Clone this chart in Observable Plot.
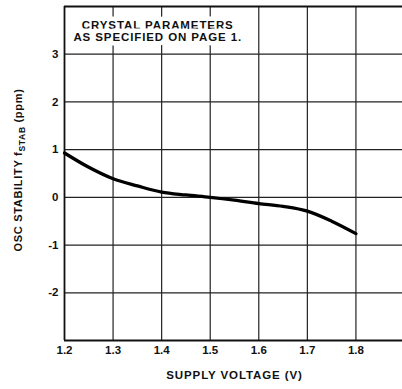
<!DOCTYPE html>
<html>
<head>
<meta charset="utf-8">
<script src="https://cdn.jsdelivr.net/npm/d3@7"></script>
<script src="https://cdn.jsdelivr.net/npm/@observablehq/plot@0.6"></script>
<style>
  html, body { margin: 0; padding: 0; background: #fff; }
  svg { display: block; }
</style>
</head>
<body>
<div id="chart"></div>
<script>
const voltage   = [1.2, 1.25, 1.3, 1.35, 1.4, 1.45, 1.5, 1.55, 1.6, 1.65, 1.7, 1.75, 1.8];
const stability = [0.93, 0.63, 0.39, 0.24, 0.11, 0.05, 0.0, -0.06, -0.13, -0.19, -0.29, -0.5, -0.76];
const xTicks = [1.2, 1.3, 1.4, 1.5, 1.6, 1.7, 1.8];
const yTicks = [-2, -1, 0, 1, 2, 3];
const xGrid = [1.3, 1.4, 1.5, 1.6, 1.7, 1.8];
const note = ["CRYSTAL PARAMETERS\nAS SPECIFIED ON PAGE 1."];
const noteX = [1.392];
const noteY = [3.48];
const xLabel = "SUPPLY VOLTAGE (V)";

const data = voltage.map((v, i) => ({v, s: stability[i]}));
const font = "'Liberation Sans', Arial, Helvetica, sans-serif";

const plot = Plot.plot({
  width: 402,
  height: 389,
  marginTop: 6,
  marginBottom: 49,
  marginLeft: 64,
  marginRight: -2,
  style: {fontFamily: font, fontSize: "11px", fontWeight: "bold", color: "#111", background: "#fff"},
  x: {domain: [1.2, 1.9]},
  y: {domain: [-3, 4]},
  marks: [
    Plot.ruleX(xGrid, {stroke: "#222", strokeWidth: 1.2}),
    Plot.ruleY(yTicks, {stroke: "#222", strokeWidth: 1.2}),
    Plot.ruleX([1.2], {stroke: "#111", strokeWidth: 1.8}),
    Plot.ruleY([-3, 4], {stroke: "#111", strokeWidth: 1.8}),
    Plot.text(note, {
      x: noteX, y: noteY, text: d => d,
      fontSize: 11.5, fontWeight: "bold", lineHeight: 0.98,
      fill: "#111", stroke: "white", strokeWidth: 9, textAnchor: "middle",
      fontFamily: font, className: "spaced"
    }),
    Plot.line(data, {x: "v", y: "s", curve: "monotone-x", stroke: "#000", strokeWidth: 3.3}),
    Plot.axisX(xTicks, {tickSize: 0, tickPadding: 5, tickFormat: d => d.toFixed(1), fontSize: 11.5, fontWeight: "bold", label: null}),
    Plot.axisY(yTicks, {tickSize: 0, tickPadding: 6, tickFormat: d => String(d), fontSize: 11.5, fontWeight: "bold", label: null}),
    Plot.text([xLabel], {frameAnchor: "bottom", dy: 38, text: d => d, fontSize: 11.5, fontWeight: "bold", fill: "#111", fontFamily: font, className: "spaced"})
  ]
});
document.getElementById("chart").append(plot);

const svg = d3.select(plot);
svg.selectAll(".spaced text").style("letter-spacing", "0.9px");

// Y-axis title with subscript
const t = svg.append("text")
  .attr("transform", "translate(22,170) rotate(-90)")
  .attr("text-anchor", "middle")
  .attr("font-family", font)
  .attr("font-weight", "bold")
  .attr("font-size", 11)
  .attr("letter-spacing", "0.7px")
  .attr("fill", "#111");
t.append("tspan").text("OSC STABILITY f");
t.append("tspan").attr("font-size", 8.5).attr("dy", 3).text("STAB");
t.append("tspan").attr("dy", -3).text(" (ppm)");
</script>
</body>
</html>
